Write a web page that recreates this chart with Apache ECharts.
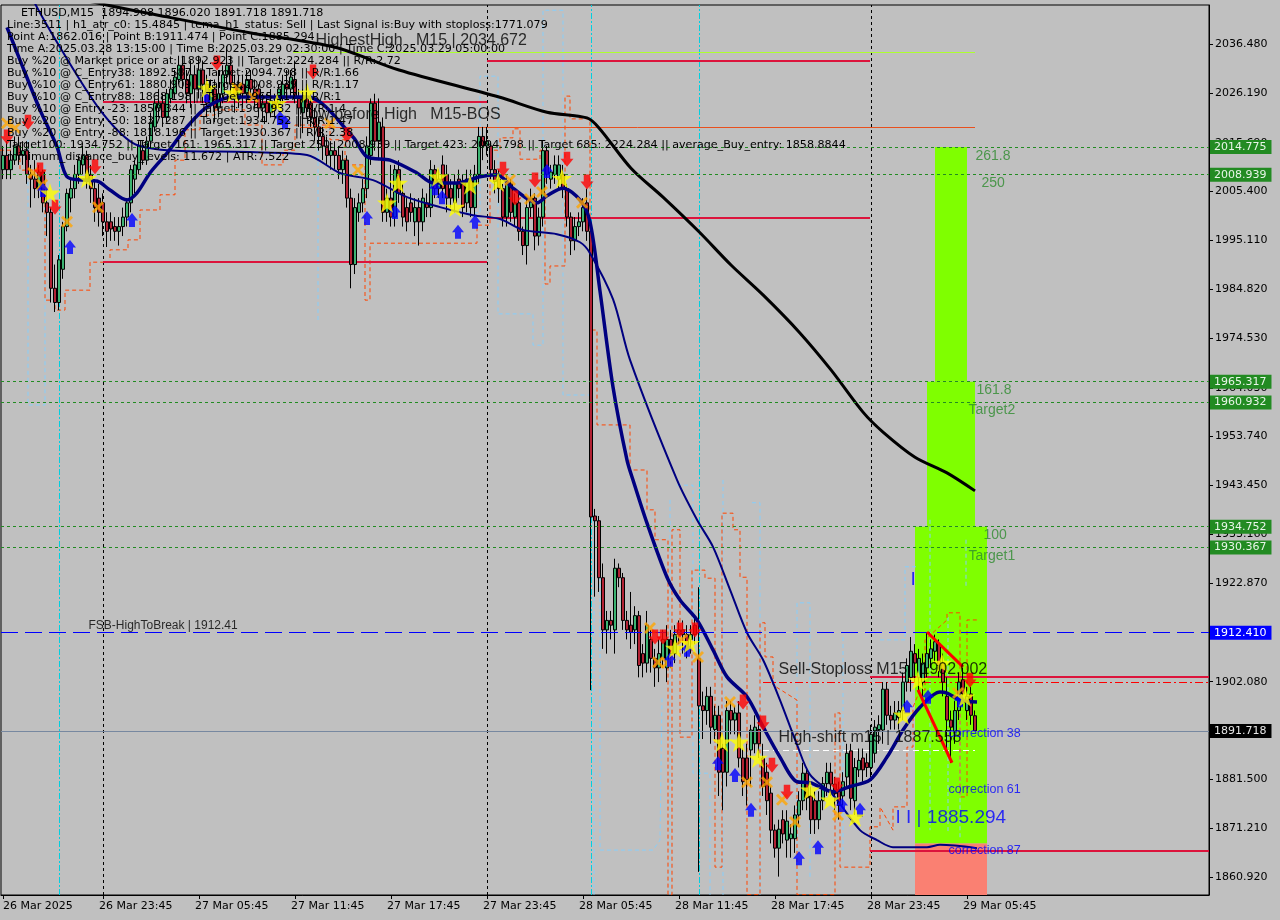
<!DOCTYPE html>
<html><head><meta charset="utf-8">
<script src="https://cdn.jsdelivr.net/npm/echarts@6/dist/echarts.min.js"></script>
<style>html,body{margin:0;padding:0;background:#c0c0c0;}#c{width:1280px;height:920px;}</style>
</head><body><div id="c"></div>
<script>
// ---------------- DATA ----------------
const timeTickIdx = [0,25,49,73,97,121,145,169,193,217,241];
const timeTickLabels = ['26 Mar 2025','26 Mar 23:45','27 Mar 05:45','27 Mar 11:45','27 Mar 17:45','27 Mar 23:45','28 Mar 05:45','28 Mar 11:45','28 Mar 17:45','28 Mar 23:45','29 Mar 05:45'];
const yTicks = [1860.92,1871.21,1881.50,1891.79,1902.08,1912.37,1922.87,1933.16,1943.45,1953.74,1964.03,1974.53,1984.82,1995.11,2005.40,2015.69,2026.19,2036.48];

const opens = [2010,2013,2010,2012,2015,2013,2014,2009,2008,2006,
2009.5,2003,2001,1985,1982,1989,1998,2004,2006,2009,
2011,2013,2009,2006,2004,2003,1999,1999,1998,1997,
1998,2000,2003,2008,2010,2014,2012,2016,2019,2023,
2024,2021,2025,2026,2029,2032,2029,2026,2030,2027,
2031,2028,2024,2027,2023,2026,2030,2032,2028,2025,
2028,2026,2029,2027,2027,2023,2024,2022,2024,2024,
2025,2028,2027,2029,2025,2022,2025,2024,2021,2019,
2017,2015,2013,2014,2013,2010,2012,2004,1990,2001,
2003,2006,2013,2024,2016,2019,2001,2004,2000,2010,
2005,2002,2003,1999,2002,1999,2003,2002,2010,2006,
2011,2009,2006,2003,2008,2007,2003,2008,2002,2009,
2017,2015,2015,2010,2008,2006,2000,2007,2000,2003,
1997,1994,2002,2004,1996,2000,2014,2008,2009,2008,
2009,2006,2000,1995,1998,1999,2003,1997,1937,1936,
1924,1913,1915,1913,1926,1924,1915,1914,1913,1916,
1908,1906,1911,1907,1905,1907,1905,1911,1908,1912,
1913,1912,1911,1914,1907,1897,1896,1899,1892,1895,
1888,1883,1896,1894,1895.5,1886,1886,1887.7,1889,1892,
1886,1883,1878.6,1870.8,1867,1873,1868.7,1869,1869,1874,
1877,1882.8,1878,1877,1873,1877,1880.6,1883,1880.5,1879,
1878,1882,1887.5,1877,1883.5,1886,1885,1884,1887,1892,
1891.9,1900.5,1895,1894,1894.5,1896,1902,1903,1908,1903,
1902,1905,1907,1908.5,1910,1906,1899,1894,1891.5,1896,
1902.5,1896,1899.5,1894.908];
const closes = [2013,2010,2012,2015,2013,2014,2009,2008,2006,2009.5,
2003,2001,1985,1982,1991,1998,2005,2006,2009,2012,
2013,2008,2006,2002,2001,1999,1997,1997.5,1997,1998,
2000,2003,2010,2011,2015,2012,2016,2020,2024,2024,
2021,2026,2027,2029.5,2032,2029,2026,2030,2027,2031,
2028,2024,2027,2023,2026,2030,2032,2028,2025,2028,
2026,2029,2027,2025,2023,2024,2022,2024.5,2023,2027,
2028,2027,2029.5,2025,2023,2025,2023,2021,2019,2017,
2015,2013,2014,2013,2010,2012,2004,1990,2002,2003,
2006,2015,2024,2016,2020,2001,2004,2000,2010,2005,
2000,1999,2001,2002,1999,2004,2002,2010,2006,2008,
2006,2004,2004,2007,2006,2002,2008,2002,2009,2017,
2015,2016,2010,2007.5,2006,2000,2007,2001,2003,1997,
1994,2002,2004,1996,2000,2014,2009,2009.5,2011,2011,
2006,2000,1995,1998,1999,2002,1997,1936.8,1936,1924,
1913,1915,1914,1926,1924,1915,1913,1912.5,1916,1905.5,
1906,1914,1907,1905,1908,1911,1911,1908,1912,1913,
1912,1909,1912,1912,1897,1896,1899,1892.5,1895,1883,
1883,1896,1894,1895.5,1886,1881,1881.5,1891.9,1892.5,1889,
1880,1877,1870.8,1867,1871,1870,1872.7,1870,1874,1877,
1882.8,1877.6,1873,1873,1877,1880.6,1883,1880.5,1878.5,1876,
1881,1887,1877.5,1884,1885.5,1883.5,1884,1891,1892.5,1893,
1900.5,1895,1894,1895.5,1896,1902,1905.5,1908.5,1906,1907,
1906,1908,1909,1910.5,1905.5,1902,1894,1892.5,1896,1902,
1899.5,1899,1895,1891.718];
const highs = [2015,2016,2014,2017,2017,2016,2016,2011,2012,2011,
2010,2006,2002,1990,1992,1999,2006,2008,2011,2013,
2015,2014,2011,2008,2007,2005,2001,2001,2000,2000,
2002,2004,2011,2012,2016,2016,2017,2022,2025,2027,
2026,2027,2029,2031,2034,2034,2031,2033,2032,2034,
2033,2030,2029,2029,2031,2032,2036,2034,2030,2030,
2030,2031,2031,2029,2028,2026,2026,2027,2026,2028,
2030,2031,2031,2033,2027,2027,2028,2026,2023,2021,
2019,2017,2016,2016,2015,2014,2013,2006,2004,2005,
2008,2017,2025,2026,2025,2021,2006,2011,2011,2012,
2007,2004,2005,2004,2004,2006,2005,2012,2011,2010,
2013,2011,2008,2009,2010,2009,2010,2010,2011,2019,
2019,2019,2016,2012,2010,2007,2009,2008,2005,2005,
1998,2004,2006,2005,2002,2016,2015,2011,2013,2013,
2011,2007,2001,2000,2001,2004,2006,1999,1938.5,1937,
1927,1917,1917,1928,1927,1925,1917,1921,1918,1917,
1910,1917,1913,1909,1911,1913,1914,1913,1914,1915,
1915,1914,1914,1916,1922,1900,1901,1901,1897,1897,
1889,1898,1898,1897,1898,1888,1889,1893,1895,1894,
1889,1885,1880,1872,1873,1875,1875,1872,1876,1879,
1885,1884,1880,1879,1879,1882,1885,1885,1882,1881,
1883,1889,1889,1886,1888,1888,1887,1893,1894,1895,
1902,1902,1897,1898,1898,1904,1907,1911.5,1910,1909,
1908,1912.4,1911,1912,1911,1908,1903,1896,1898,1904,
1905,1901,1901,1896.02];
const lows = [2008,2008,2008,2011,2011,2011,2007,2002,2004,2004,
2001,1996,1982,1980,1980.4,1987,1997,2001,2004,2007,
2009,2006,2003,1999,1998,1996,1993.7,1995,1995,1994,
1996,1998,2001,2005,2009,2011,2011,2015,2018,2021,
2019,2020,2024,2025,2028,2027,2024,2023,2024,2025,
2024,2021,2022,2020,2021,2024,2028,2026,2022,2023,
2023,2024,2025,2023,2021,2020,2020,2021,2021,2023,
2024,2025,2025,2024,2019,2017.7,2021,2019,2016,2014,
2012,2011,2010,2010,2008,2007,2002,1985,1988,1999,
2001,2004,2011,2014,2012,1999,1999,1998,1998,2003,
1998,1997,1999,1996,1994,1997,2000,2000,2004,2004,
2004,2001,2002,2001,2004,2000,2001,2000,2000,2007,
2012,2013,2008,2005,2003,1998,1998,1999,1998,1995,
1992,1990,2000,1993,1994,1998,2007,2006,2007,2006,
2004,1998,1992,1993,1996,1997,1995,1900.3,1920,1921,
1909,1908,1911,1908,1922,1913,1911,1909,1910,1903,
1903,1904,1904,1901,1902,1905,1902,1905,1906,1910,
1908,1907,1908,1910,1862,1890,1893,1889,1890,1878,
1875,1880,1891,1891,1884,1878,1876,1880,1887,1886,
1878,1874,1868,1865,1861,1868,1865,1865,1866,1872,
1875,1875,1870,1870,1871,1875,1878,1878,1875,1873,
1876,1880,1875,1874,1882,1881,1882,1882,1885,1889,
1889,1893,1892,1892,1892,1894,1900,1900,1902,1900,
1899,1903,1905,1906,1903,1899,1887,1885,1889,1894,
1897,1894,1893,1891.718];

// moving averages: [bar index, price]
const blackMA = [[9,2048.9],[20,2045.8],[41,2042.2],[62,2038.8],[83,2035.8],[99,2031.0],[124,2025.3],[136,2022.1],[146,2020.9],[149,2018.8],[157,2010.3],[165,2004.2],[174,1996.9],[182,1989.9],[190,1983.6],[199,1975.8],[207,1967.8],[215,1958.9],[220,1954.7],[228,1949.4],[236,1946.1],[243,1942.3]];
const navyFast = [[1,2040.0],[4.25,2033.1],[9.25,2022.6],[13.5,2014.8],[16,2008.5],[20,2007.8],[23.5,2007.6],[26.75,2005.7],[31,2003.6],[33.5,2005.1],[36.75,2009.3],[41,2013.5],[46,2019.0],[51,2023.2],[57.5,2025.3],[61.75,2025.3],[76,2025.3],[87.5,2016.9],[91,2012.7],[96.75,2012.0],[103.5,2009.3],[107.5,2007.2],[113.5,2007.2],[119.25,2008.5],[123.5,2008.9],[127.5,2006.1],[133.5,2003.0],[136,2004.5],[140,2006.1],[144.25,2003.6],[146.75,1999.0],[149.25,1984.4],[152.5,1964.2],[156,1948.8],[157.5,1944.6],[161,1935.5],[166,1924.1],[169.25,1919.3],[173.5,1915.1],[177.5,1908.8],[181,1903.1],[186,1898.9],[190,1892.6],[194.25,1886.2],[198.5,1881.0],[201.75,1880.8],[207.5,1878.9],[211.75,1880.0],[216.75,1881.4],[221,1886.2],[225,1891.9],[229.25,1896.7],[234.25,1899.9],[236,1899.7],[239.25,1898.2],[243.5,1897.8]];
const navySlow = [[4.25,2052.0],[7.5,2045.8],[14.25,2035.8],[24.25,2022.6],[32.5,2015.6],[41,2014.1],[61.75,2013.7],[76,2013.1],[84.25,2009.3],[92.5,2007.8],[101,2004.2],[109.25,2002.1],[117.5,2000.4],[124.25,1999.6],[130,1997.3],[138.5,1996.4],[144.25,1994.7],[146.75,1992.4],[152.5,1982.7],[156.75,1969.9],[168.5,1944.6],[173.5,1936.2],[177.5,1930.5],[181.75,1921.5],[186,1912.4],[190,1906.7],[194.25,1898.2],[198.5,1888.8],[201.75,1882.5],[207.5,1878.2],[214.25,1870.8],[218.5,1868.7],[222.5,1867.2],[231,1867.2],[234.25,1867.7],[243.5,1867.0]];

// stepped stop lines
const orangeStop = [[-0.75,2014.1],[4.25,2014.1],[4.25,2009.9],[10.5,2009.9],[10.5,1982.5],[13,1982.5],[13,1980.4],[15.5,1980.4],[15.5,1984.6],[21.75,1984.6],[21.75,1990.5],[26.75,1990.5],[26.75,1993.1],[31.25,1993.1],[31.25,1995.2],[34.25,1995.2],[34.25,2001.5],[39.25,2001.5],[39.25,2004.7],[43,2004.7],[43,2012.0],[45.5,2012.0],[45.5,2018.4],[49.25,2018.4],[49.25,2021.5],[53,2021.5],[53,2022.6],[60.5,2022.6],[60.5,2019.4],[64.75,2019.4],[64.75,2011.0],[70,2011.0],[70,2014.1],[73,2014.1],[73,2019.4],[81.75,2019.4],[81.75,2016.3],[85.5,2016.3],[85.5,2011.0],[90.5,2011.0],[90.5,1982.5],[91.75,1982.5],[91.75,1994.5],[118.5,1994.5],[118.5,1998.3],[121.75,1998.3],[121.75,2014.1],[124.25,2014.1],[124.25,2016.7],[127.5,2016.7],[127.5,2018.6],[129.25,2018.6],[129.25,2012.2],[134.25,2012.2],[134.25,2014.1],[135.5,2014.1],[135.5,1985.9],[136.75,1985.9],[136.75,1989.7],[140.5,1989.7],[140.5,2025.5],[141.75,2025.5],[141.75,2020.7],[146.75,2020.7],[146.75,1976.2],[148.5,1976.2],[148.5,1956.2],[156.75,1956.2],[156.75,1946.7],[161,1946.7],[161,1938.3],[163,1938.3],[163,1932.0],[166.25,1932.0],[166.25,1857.2],[167.25,1857.2],[167.25,1934.1],[169.25,1934.1],[169.25,1890.4],[172.25,1890.4],[172.25,1925.6],[175.5,1925.6],[175.5,1923.9],[178,1923.9],[178,1863.0],[179.75,1863.0],[179.75,1937.6],[182.5,1937.6],[182.5,1934.1],[184.25,1934.1],[184.25,1924.1],[186,1924.1],[186,1857.2],[189.25,1857.2],[189.25,1914.5],[190.5,1914.5],[190.5,1907.3],[192.5,1907.3],[192.5,1901.4],[198.5,1898.2],[198.5,1857.2],[208,1857.2],[208,1895.5],[209.25,1895.5],[209.25,1863.0],[216.75,1863.0],[216.75,1871.5],[219.25,1871.5],[219.25,1875.7],[222.5,1870.8],[222.5,1875.7],[226,1875.7],[226,1888.3],[227.5,1888.3],[227.5,1896.7],[229.25,1900.3],[230.5,1900.3],[230.5,1910.9],[236,1915.1],[236,1916.6],[239.25,1916.6],[239.25,1877.8],[241,1877.8],[241,1915.1],[243.5,1915.1]];
const blueStops = [
 [[6.25,2016.3],[6.25,1960.4],[10.5,1960.4],[10.5,2011.0]],
 [[78.75,2019.0],[78.75,1978.3]],
 [[116,2000.9],[119.25,2000.9],[119.25,2029.7],[123.75,2029.7],[123.75,1979.6],[132.5,1979.6],[132.5,1973.0],[135,1973.0],[135,2043.6],[140,2043.6],[140,1962.5],[146.75,1962.5],[146.75,1972.0]],
 [[147.75,1937.6],[147.75,1857.2]],
 [[149.25,1927.1],[149.25,1866.6],[162.5,1866.6],[164.25,1868.7],[164.75,1898.9]],
 [[166.75,1940.4],[166.75,1857.2]],
 [[168.5,1943.5],[172.5,1943.5],[172.5,1882.8],[176.75,1882.8],[176.75,1857.2]],
 [[180,1944.6],[180,1857.2]],
 [[187.25,1939.8],[189.25,1939.8],[189.25,1857.2]],
 [[198.5,1860.3],[198.5,1918.7],[201.75,1918.7],[201.75,1860.3]],
 [[210,1911.5],[210,1866.6]],
 [[219.25,1910.9],[225.5,1910.9],[225.5,1926.3],[228.5,1926.3]],
 [[231.75,1936.2],[231.75,1870.8]],
 [[236.25,1915.7],[236.25,1870.2]],
 [[239.25,1896.7],[239.25,1868.7]],
 [[240.75,1932.0],[240.75,1922.1]]
];

// levels
const fibLevels = [2014.775, 2008.939, 1965.317, 1960.932, 1934.752, 1930.367];
const fsbLevel = 1912.41;
const bidPrice = 1891.718;
const daySeparators = [25, 121, 217];
const cyanSeparators = [14, 147, 174];
// segments: [startBar, endBar, price]
const crimsonSegs = [[25,121,2024.3],[25,121,1990.5],[121,216.75,2032.9],[121,216.75,1999.9],[216.75,301.5,1903.1],[216.75,301.5,1866.4]];
const highestHighSeg = [72.5, 243, 2034.672];
const lowBeforeHighSeg = [74.25, 243, 2019.0];
const sellStopSeg = [190, 301.5, 1902.002];
const highShiftSeg = [190, 243, 1887.558];
const trendLines = [[[231,1912.56],[240,1905.2]], [[228.75,1900.34],[237.25,1885.0]]];
// zones: [bar1, bar2, price1, price2]
const zoneRects = [[233,241,2014.775,1965.317],[231,243,1965.317,1934.752],[228,246,1934.752,1868.0],[228,246,1868.0,1857.13]];

// signals
const stars = [[11.75,2005.1],[21,2008.2],[51,2027.2],[57.5,2026.2],[68.5,2024.0],[76,2026.2],[96,2003.0],[98.75,2007.2],[108.75,2008.5],[113,2002.1],[116.75,2006.8],[123.75,2007.4],[139.75,2008.2],[168,1909.2],[171.75,1910.2],[179.75,1889.4],[184,1889.4],[188.75,1886.0],[201.75,1879.3],[206.75,1877.2],[213,1873.6],[225,1895.1],[228.75,1902.4],[234.75,1906.0],[240.5,1898.9]];
const crosses = [[1,2019.8],[3,2018.8],[7.5,2009.3],[9.75,2006.8],[16,1999.0],[23.75,2002.1],[58.5,2027.2],[62.5,2025.3],[81.75,2019.8],[88.75,2009.9],[126.75,2007.8],[131.75,2003.8],[134.75,2005.3],[144.75,2003.0],[161.75,1913.4],[163.75,1906.2],[166,1906.0],[169.75,1910.9],[173.75,1907.3],[181.75,1897.8],[186,1880.9],[191,1880.9],[194.75,1877.2],[198,1872.5],[208.75,1874.0],[238.75,1899.7]];
const sellArrows = [[1,2016.9],[6.25,2020.0],[9.25,2009.9],[13,2002.1],[23,2010.6],[53.5,2032.5],[77.5,2030.6],[86,2017.3],[125,2010.1],[128,2004.0],[133,2007.8],[141,2012.2],[146,2007.4],[163,1911.5],[165,1911.5],[169.25,1913.0],[173,1913.0],[185,1897.8],[190,1893.4],[192.25,1884.5],[196,1878.8],[208.5,1880.3],[241.75,1902.4]];
const buyArrows = [[10,2005.7],[16.75,1993.7],[32.25,1999.4],[51,2025.7],[69.25,2020.9],[70.5,2020.0],[91,1999.8],[98,2001.1],[108,2006.1],[109.75,2004.2],[113.75,1996.9],[118,1999.0],[136,2009.7],[166.75,1906.7],[171,1908.8],[178.75,1884.9],[183,1882.4],[187,1875.1],[199,1864.9],[203.75,1867.2],[209.75,1876.1],[214.25,1875.1],[226,1896.8],[231.25,1898.9],[239.25,1898.2]];

// chart annotations: [bar, price, text]
const notes = [
 [78,2037.3,'HighestHigh   M15 | 2034.672'],
 [74.25,2021.5,'Low before High   M15-BOS'],
 [21.25,1913.8,'FSB-HighToBreak | 1912.41'],
 [193.75,1904.6,'Sell-Stoploss M15 | 1902.002'],
 [193.75,1890.2,'High-shift m15 | 1887.558'],
 [236.25,1891.1,'correction 38'],
 [236.25,1879.3,'correction 61'],
 [236.25,1866.6,'correction 87'],
 [223,1873.4,'I I | 1885.294'],
 [226.75,1923.5,'I'],
 [243,2012.9,'261.8'],
 [244.5,2007.2,'250'],
 [243.25,1963.5,'161.8'],
 [241.25,1959.3,'Target2'],
 [245,1933.0,'100'],
 [241.25,1928.6,'Target1']
];
const infoLines = [
 'ETHUSD,M15  1894.908 1896.020 1891.718 1891.718',
 'Line:3511 | h1_atr_c0: 15.4845 | tema_h1_status: Sell | Last Signal is:Buy with stoploss:1771.079',
 'Point A:1862.016 | Point B:1911.474 | Point C:1885.294',
 'Time A:2025.03.28 13:15:00 | Time B:2025.03.29 02:30:00 | Time C:2025.03.29 05:00:00',
 'Buy %20 @ Market price or at: 1892.923 || Target:2224.284 || R/R:2.72',
 'Buy %10 @ C_Entry38: 1892.587 || Target:2094.798 || R/R:1.66',
 'Buy %10 @ C_Entry61: 1880.909 || Target:2008.939 || R/R:1.17',
 'Buy %10 @ C_Entry88: 1868.198 || Target:1965.317 || R/R:1',
 'Buy %10 @ Entry -23: 1850.344 || Target:1960.932 || R/R:1.4',
 'Buy %20 @ Entry -50: 1837.287 || Target:1934.752 || R/R:1.47',
 'Buy %20 @ Entry -88: 1818.196 || Target:1930.367 || R/R:2.38',
 'Target100: 1934.752 || Target 161: 1965.317 || Target 250: 2008.939 || Target 423: 2094.798 || Target 685: 2224.284 || average_Buy_entry: 1858.8844',
 'minimum_distance_buy_levels: 11.672 | ATR:7.522'
];
const nBars = 302;
const yMin = 1857.13, yMax = 2044.70;

// ---------------- STYLE / BUILD ----------------
const FONT = '"Liberation Sans", Arial, sans-serif';
const UIFONT = '"DejaVu Sans", Verdana, sans-serif';
const tickSet = new Set(timeTickIdx);
const catLabels = Array.from({length:nBars}, (_,k)=>{const j=timeTickIdx.indexOf(k); return j>=0?timeTickLabels[j]:'';});
const candleData = opens.map((o,k)=>[o, closes[k], lows[k], highs[k]]);
const zoneColors = ['#7FFF00','#7FFF00','#7FFF00','#FA8072'];
const noteStyle = [
 {fontSize:16,color:'#000'},{fontSize:16,color:'#000'},{fontSize:12,color:'#000'},
 {fontSize:16,color:'#000'},{fontSize:16,color:'#000'},
 {fontSize:12.5,color:'#0000FF'},{fontSize:12.5,color:'#0000FF'},{fontSize:12.5,color:'#0000FF'},
 {fontSize:19,color:'#0000FF'},{fontSize:19,color:'#0000FF'},
 {fontSize:14,color:'#2E8B2E'},{fontSize:14,color:'#2E8B2E'},{fontSize:14,color:'#2E8B2E'},
 {fontSize:14,color:'#2E8B2E'},{fontSize:14,color:'#2E8B2E'},{fontSize:14,color:'#2E8B2E'}
];
const STAR = 'path://M50,0 L61,35 L98,35 L68,57 L79,91 L50,70 L21,91 L32,57 L2,35 L39,35 Z';
const CROSS = 'path://M0,2 L2,0 L6,4 L10,0 L12,2 L8,6 L12,10 L10,12 L6,8 L2,12 L0,10 L4,6 Z';
const DOWN = 'path://M3,0 L9,0 L9,6 L12,6 L6,13 L0,6 L3,6 Z';
const UP = 'path://M6,0 L12,7 L9,7 L9,13 L3,13 L3,7 L0,7 Z';

function segLines(segs, style, z) {
  return {type:'lines', coordinateSystem:'cartesian2d', xAxisIndex:1, yAxisIndex:0, silent:true, z:z,
    polyline:false, lineStyle:Object.assign({opacity:1}, style),
    data: segs.map(s=>({coords:[[s[0],s[2]],[s[1],s[2]]]}))};
}
function vLines(list, style, z) {
  return {type:'lines', coordinateSystem:'cartesian2d', xAxisIndex:1, yAxisIndex:0, silent:true, z:z,
    lineStyle:Object.assign({opacity:1}, style),
    data: list.map(k=>({coords:[[k,yMin],[k,yMax]]}))};
}
function tagLine(v, lineColor, lineType, bg, fg) {
  return {yAxis:v, lineStyle:{color:lineColor, type:lineType, width:1},
    label:{show:true, position:'end', distance:1, formatter:()=>v.toFixed(3), backgroundColor:bg, color:fg,
      padding:[2,5,1,4], fontFamily:UIFONT, fontSize:11}};
}

const option = {
  animation:false,
  backgroundColor:'#C0C0C0',
  grid:{left:1, right:71, top:5, bottom:25, show:true, borderColor:'#000', borderWidth:1, backgroundColor:'transparent',
        containLabel:false, outerBoundsMode:'none'},
  xAxis:[
    {type:'category', data:catLabels, boundaryGap:true,
     axisLine:{show:true, onZero:false, lineStyle:{color:'#000'}},
     axisTick:{show:true, alignWithLabel:true, interval:(k)=>tickSet.has(k), length:4, lineStyle:{color:'#000'}},
     axisLabel:{show:true, interval:(k)=>tickSet.has(k), align:'left', padding:[0,0,0,-4], color:'#000', fontFamily:UIFONT, fontSize:11, margin:6,
       formatter:(v,k)=> k===0 ? '{f|'+v+'}' : v, rich:{f:{padding:[0,0,0,4], fontFamily:UIFONT, fontSize:11, color:'#000'}}},
     splitLine:{show:false}},
    {type:'value', min:-0.5, max:nBars-0.5, show:false}
  ],
  yAxis:[{type:'value', position:'right', min:yMin, max:yMax, scale:true,
     axisLine:{show:true, onZero:false, lineStyle:{color:'#000'}},
     axisTick:{show:true, customValues:yTicks, length:4, lineStyle:{color:'#000'}},
     axisLabel:{customValues:yTicks, formatter:(v)=>Number(v).toFixed(3), color:'#000', fontFamily:UIFONT, fontSize:11, margin:6},
     splitLine:{show:false}}],
  graphic: infoLines.map((t,k)=>({type:'text', x:k===0?21:7, y:12.7+k*12.05, z:100, silent:true,
     style:{text:t, fill:'#000', font:'11.1px '+UIFONT, verticalAlign:'middle'}})),
  series:[
    {type:'line', xAxisIndex:1, data:[[-1,1800]], showSymbol:false, silent:true, z:0, lineStyle:{opacity:0},
     markArea:{silent:true, data: zoneRects.map((r,k)=>[{coord:[r[0],r[2]], itemStyle:{color:zoneColors[k], opacity:1, borderWidth:0}},{coord:[r[1],r[3]]}])}},
    vLines(daySeparators, {color:'#000', type:[3,3], width:1}, 1),
    vLines(cyanSeparators, {color:'#00D0E0', type:[6,2,2,2], width:1}, 1),
    {type:'lines', coordinateSystem:'cartesian2d', xAxisIndex:1, yAxisIndex:0, polyline:true, silent:true, z:1,
     lineStyle:{color:'#87CEFA', width:1, type:[4,3], opacity:1}, data: blueStops.map(c=>({coords:c}))},
    {type:'lines', coordinateSystem:'cartesian2d', xAxisIndex:1, yAxisIndex:0, polyline:true, silent:true, z:1,
     lineStyle:{color:'#FF4500', width:1, type:[4,3], opacity:1}, data:[{coords:orangeStop}]},
    {type:'line', xAxisIndex:1, data:[[-1,1800]], showSymbol:false, silent:true, z:1, lineStyle:{opacity:0},
     markLine:{symbol:['none','none'], silent:true, precision:3, data:[
       ...fibLevels.map(v=>tagLine(v, '#228B22', [3,3], '#228B22', '#E8F5E8')),
       tagLine(fsbLevel, '#0000FF', [17,7], '#0000FF', '#FFFFFF'),
       tagLine(bidPrice, '#7788A0', 'solid', '#000000', '#E6E6E6')
     ]}},
    segLines(crimsonSegs, {color:'#DC143C', width:2, type:'solid'}, 2),
    segLines([highestHighSeg], {color:'#ADFF2F', width:1, type:'solid'}, 2),
    segLines([lowBeforeHighSeg], {color:'#E8501E', width:1, type:'solid'}, 2),
    segLines([sellStopSeg], {color:'#FF0000', width:1, type:[8,3,2,3]}, 2),
    segLines([highShiftSeg], {color:'#FFFFFF', width:1, type:[6,4]}, 2),
    {type:'candlestick', xAxisIndex:0, yAxisIndex:0, data:candleData, barWidth:3, silent:true, z:3,
     itemStyle:{color:'#3CB371', color0:'#B22234', borderColor:'#000', borderColor0:'#000', borderWidth:1}},
    {type:'line', xAxisIndex:1, data:navySlow, showSymbol:false, silent:true, smooth:0.3, z:4,
     lineStyle:{color:'#000080', width:2}},
    {type:'line', xAxisIndex:1, data:navyFast, showSymbol:false, silent:true, smooth:0.3, z:4,
     lineStyle:{color:'#000080', width:3.5}},
    {type:'line', xAxisIndex:1, data:blackMA, showSymbol:false, silent:true, smooth:0.3, z:4,
     lineStyle:{color:'#000000', width:3}},
    {type:'lines', coordinateSystem:'cartesian2d', xAxisIndex:1, yAxisIndex:0, silent:true, z:5,
     lineStyle:{color:'#FF0000', width:3, opacity:1}, data: trendLines.map(c=>({coords:c}))},
    {type:'scatter', xAxisIndex:1, data:crosses, symbol:CROSS, symbolSize:12, silent:true, z:6, itemStyle:{color:'#FFA500'}},
    {type:'scatter', xAxisIndex:1, data:sellArrows, symbol:DOWN, symbolSize:[13,15], silent:true, z:6, itemStyle:{color:'#FF0000'}},
    {type:'scatter', xAxisIndex:1, data:buyArrows, symbol:UP, symbolSize:[12,14], silent:true, z:6, itemStyle:{color:'#0000FF'}},
    {type:'scatter', xAxisIndex:1, data:stars, symbol:STAR, symbolSize:20, silent:true, z:7, itemStyle:{color:'#FFFF00'}},
    {type:'scatter', xAxisIndex:1, silent:true, z:8, symbolSize:1, itemStyle:{color:'rgba(0,0,0,0)'},
     data: notes.map((n,k)=>({value:[n[0],n[1]], label:{show:true, position:'right', distance:0, formatter:n[2],
        color:noteStyle[k].color, fontSize:noteStyle[k].fontSize, fontFamily:FONT}}))}
  ]
};
const chart = echarts.init(document.getElementById('c'), null, {renderer:'canvas'});
chart.setOption(option);
</script></body></html>
